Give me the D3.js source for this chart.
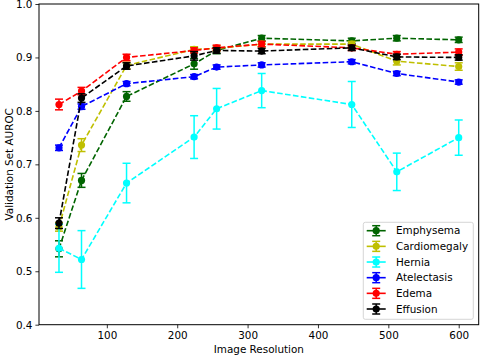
<!DOCTYPE html>
<html><head><meta charset="utf-8">
<script src="https://cdn.jsdelivr.net/npm/d3@7"></script>
<style>body{margin:0;background:#fff}svg{display:block}text{font-family:"DejaVu Sans",sans-serif}</style>
</head><body><svg id="c" width="480" height="357"></svg>
<script>
const resolutions = [32, 64, 128, 224, 256, 320, 448, 512, 600];
const seriesNames = ["Emphysema", "Cardiomegaly", "Hernia", "Atelectasis", "Edema", "Effusion"];
const seriesColors = ["#006400", "#bfbf00", "#00ffff", "#0000ff", "#ff0000", "#000000"];
const emphysema    = [0.542, 0.670, 0.827, 0.888, 0.913, 0.936, 0.931, 0.936, 0.933];
const emphysemaErr = [0.015, 0.013, 0.009, 0.010, 0.006, 0.005, 0.005, 0.005, 0.005];
const cardiomegaly    = [0.583, 0.736, 0.885, 0.915, 0.917, 0.925, 0.925, 0.893, 0.883];
const cardiomegalyErr = [0.008, 0.012, 0.006, 0.005, 0.005, 0.005, 0.005, 0.007, 0.007];
const hernia    = [0.543, 0.522, 0.665, 0.751, 0.804, 0.838, 0.812, 0.686, 0.750];
const herniaErr = [0.045, 0.054, 0.037, 0.040, 0.038, 0.032, 0.043, 0.035, 0.033];
const atelectasis    = [0.731, 0.808, 0.851, 0.864, 0.882, 0.886, 0.892, 0.870, 0.854];
const atelectasisErr = [0.005, 0.005, 0.004, 0.004, 0.004, 0.004, 0.004, 0.004, 0.004];
const edema    = [0.812, 0.837, 0.900, 0.913, 0.918, 0.925, 0.918, 0.906, 0.910];
const edemaErr = [0.010, 0.007, 0.006, 0.005, 0.005, 0.005, 0.005, 0.005, 0.006];
const effusion    = [0.590, 0.824, 0.884, 0.903, 0.913, 0.912, 0.918, 0.901, 0.900];
const effusionErr = [0.010, 0.008, 0.006, 0.008, 0.005, 0.005, 0.005, 0.005, 0.005];
const xTicks = [100, 200, 300, 400, 500, 600];
const yTicks = [0.4, 0.5, 0.6, 0.7, 0.8, 0.9, 1.0];

const values = [emphysema, cardiomegaly, hernia, atelectasis, edema, effusion];
const errors = [emphysemaErr, cardiomegalyErr, herniaErr, atelectasisErr, edemaErr, effusionErr];

const L = 39, R = 478.7, T = 4, B = 324.7;
const svg = d3.select("#c");
const x = d3.scaleLinear().domain([3.6, 628.4]).range([L, R]);
const y = d3.scaleLinear().domain([0.4, 1.0]).range([B, T]);

const fs = "10.4px";
const xAxis = svg.append("g").attr("transform", `translate(0,${B})`)
  .call(d3.axisBottom(x).tickValues(xTicks).tickSize(3.6).tickPadding(3).tickFormat(d3.format("d")));
const yAxis = svg.append("g").attr("transform", `translate(${L},0)`)
  .call(d3.axisLeft(y).tickValues(yTicks).tickSize(3.6).tickPadding(3).tickFormat(d3.format(".1f")));
[xAxis, yAxis].forEach(a => {
  a.select(".domain").remove();
  a.selectAll("text").attr("font-size", fs).attr("fill", "#000").style("font-family", "DejaVu Sans");
  a.selectAll("line").attr("stroke", "#000").attr("stroke-width", 0.8);
});

const plot = svg.append("g");
const line = d3.line().x((d, i) => x(resolutions[i])).y(d => y(d));
values.forEach((vals, s) => {
  const col = seriesColors[s];
  const g = plot.append("g");
  vals.forEach((v, i) => {
    const cx = x(resolutions[i]), e = errors[s][i];
    g.append("line").attr("x1", cx).attr("x2", cx).attr("y1", y(v - e)).attr("y2", y(v + e))
      .attr("stroke", col).attr("stroke-width", 1.5);
    [v - e, v + e].forEach(c => g.append("line").attr("x1", cx - 4).attr("x2", cx + 4)
      .attr("y1", y(c)).attr("y2", y(c)).attr("stroke", col).attr("stroke-width", 1.5));
  });
  g.append("path").attr("d", line(vals)).attr("fill", "none").attr("stroke", col)
    .attr("stroke-width", 1.6).attr("stroke-dasharray", "5.6,2.4");
  g.selectAll("circle.m").data(vals).join("circle").attr("class", "m")
    .attr("cx", (d, i) => x(resolutions[i])).attr("cy", d => y(d)).attr("r", 3.6).attr("fill", col);
});

// frame
svg.append("rect").attr("x", L).attr("y", T).attr("width", R - L).attr("height", B - T)
  .attr("fill", "none").attr("stroke", "#000").attr("stroke-width", 1);

// legend
const lg = svg.append("g");
lg.append("rect").attr("x", 363.3).attr("y", 222.3).attr("width", 110).attr("height", 97)
  .attr("rx", 2).attr("fill", "#fff").attr("fill-opacity", 0.8).attr("stroke", "#ccc").attr("stroke-width", 0.8);
seriesNames.forEach((n, s) => {
  const yy = 230.7 + s * 15.66, col = seriesColors[s];
  lg.append("line").attr("x1", 366.7).attr("x2", 385.7).attr("y1", yy).attr("y2", yy).attr("stroke", col).attr("stroke-width", 1.6);
  lg.append("line").attr("x1", 376.2).attr("x2", 376.2).attr("y1", yy - 5).attr("y2", yy + 5).attr("stroke", col).attr("stroke-width", 1.5);
  [yy - 5, yy + 5].forEach(c => lg.append("line").attr("x1", 372.2).attr("x2", 380.2).attr("y1", c).attr("y2", c).attr("stroke", col).attr("stroke-width", 1.5));
  lg.append("circle").attr("cx", 376.2).attr("cy", yy).attr("r", 3.6).attr("fill", col);
  lg.append("text").attr("x", 396).attr("y", yy).attr("dy", "0.35em").attr("font-size", fs).text(n);
});

// axis labels
svg.append("text").attr("x", (L + R) / 2).attr("y", 353).attr("text-anchor", "middle").attr("font-size", fs).text("Image Resolution");
svg.append("text").attr("transform", `translate(9,${(T + B) / 2}) rotate(-90)`).attr("text-anchor", "middle")
  .attr("dy", "0.35em").attr("font-size", fs).text("Validation Set AUROC");
</script></body></html>
